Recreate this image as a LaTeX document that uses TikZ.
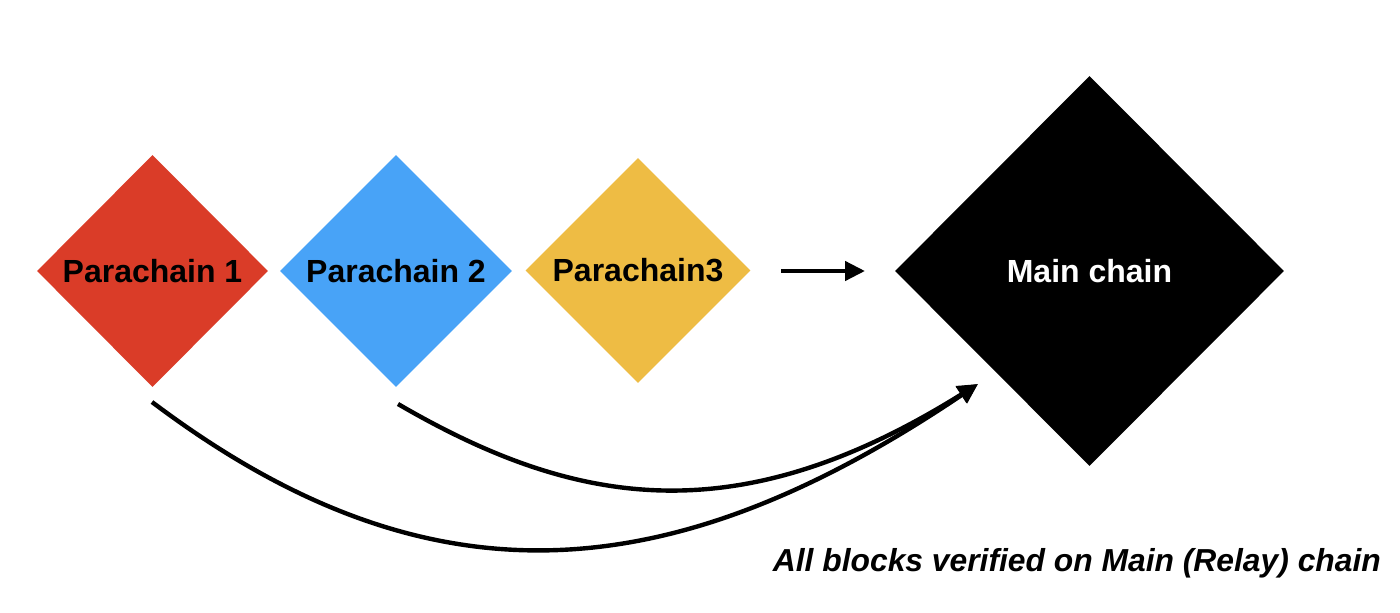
\documentclass[tikz,border=0pt]{standalone}
\usepackage{fontspec}
\setmainfont{Liberation Sans}
\usetikzlibrary{shapes.geometric,arrows.meta}
\definecolor{pcred}{HTML}{DA3C28}
\definecolor{pcblue}{HTML}{48A3F7}
\definecolor{pcyellow}{HTML}{EEBC44}
\tikzset{
  chainbox/.style={diamond, aspect=1, inner sep=0pt, draw=none,
    font=\fontsize{32}{36}\selectfont\bfseries, text=black},
  conn/.style={line width=4.4pt, -{Triangle[length=20pt,width=19pt]}},
}
\begin{document}
\begin{tikzpicture}[x=1pt,y=-1pt]
\useasboundingbox[fill=white] (0,0) rectangle (1400,613);
\node[chainbox, fill=pcred, minimum width=231pt, minimum height=232pt] (p1) at (152.5,271) {Parachain 1};
\node[chainbox, fill=pcblue, minimum width=232pt, minimum height=232pt] (p2) at (396,271) {Parachain 2};
\node[chainbox, fill=pcyellow, minimum width=225pt, minimum height=225pt] (p3) at (638,270.5) {Parachain3};
\node[chainbox, fill=black, text=white, minimum width=389pt, minimum height=390pt] (m) at (1089.5,271) {Main chain};
\coordinate (a1) at (781,271);
\coordinate (a2) at (865,271);
\coordinate (tip) at (978,384);
\coordinate (s1) at (152,402);
\coordinate (s2) at (398,404);
\draw[conn] (a1) -- (a2);
\draw[conn] (s1) .. controls (424.5,607.3) and (665.5,594.7) .. (tip);
\draw[conn] (s2) .. controls (575,507) and (736.6,534.9) .. (tip);
\node[anchor=base east, inner sep=0pt, font=\fontsize{31.8}{36}\selectfont\bfseries\itshape] (cap) at (1381,571) {All blocks verified on Main (Relay) chain};
\end{tikzpicture}
\end{document}
